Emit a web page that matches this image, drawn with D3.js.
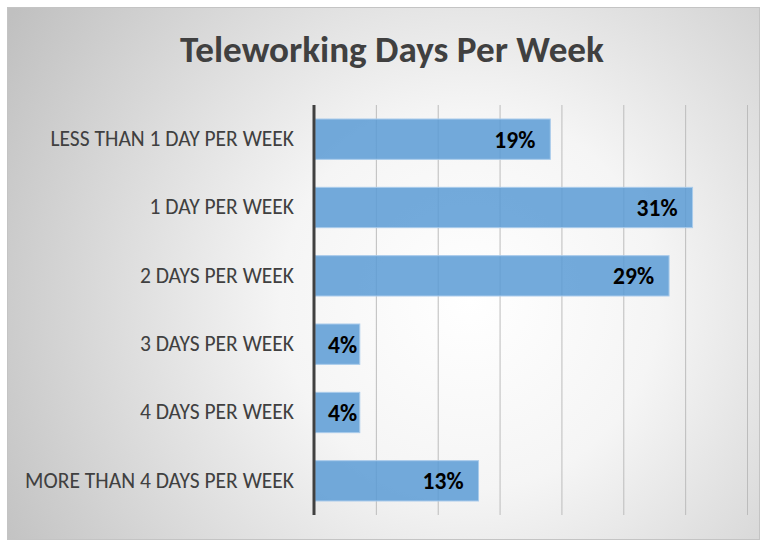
<!DOCTYPE html>
<html>
<head>
<meta charset="utf-8">
<script src="https://cdn.jsdelivr.net/npm/d3@7"></script>
<style>
  body { margin: 0; background: #fff; }
  svg { display: block; }
</style>
</head>
<body>
<div id="corpo"></div>
<script>
// data
var categories = ["LESS THAN 1 DAY PER WEEK", "1 DAY PER WEEK", "2 DAYS PER WEEK",
                  "3 DAYS PER WEEK", "4 DAYS PER WEEK", "MORE THAN 4 DAYS PER WEEK"];
var values = [19.1, 30.6, 28.7, 3.7, 3.7, 13.3];
var tickValues = [0, 5, 10, 15, 20, 25, 30, 35];
var title = "Teleworking Days Per Week";

var W = 764, H = 541;
var box = {x: 7, y: 7, w: 752, h: 532};
var plot = {left: 314, right: 747, top: 105, bottom: 515};
var fontStack = "Carlito, Calibri, 'Open Sans', sans-serif";

var svg = d3.select("#corpo").append("svg")
    .attr("width", W)
    .attr("height", H);

// background gradient
var defs = svg.append("defs");
var grad = defs.append("radialGradient")
    .attr("id", "bg")
    .attr("gradientUnits", "userSpaceOnUse")
    .attr("cx", 470).attr("cy", 300).attr("r", 540);
grad.append("stop").attr("offset", "0%").attr("stop-color", "#ffffff");
grad.append("stop").attr("offset", "35%").attr("stop-color", "#f5f5f5");
grad.append("stop").attr("offset", "100%").attr("stop-color", "#c0c0c0");

svg.append("rect")
    .attr("x", box.x + 0.5).attr("y", box.y + 0.5)
    .attr("width", box.w).attr("height", box.h)
    .attr("fill", "url(#bg)")
    .attr("stroke", "#c4c4c4");

// scales
var x = d3.scaleLinear().domain([0, 35]).range([plot.left, plot.right]);
var y = d3.scaleBand().domain(categories)
    .range([plot.top, plot.bottom])
    .paddingInner(0.41).paddingOuter(0.205);

// gridlines
svg.append("g")
    .attr("transform", "translate(0," + plot.top + ")")
    .call(d3.axisBottom(x).tickValues(tickValues).tickSize(plot.bottom - plot.top).tickFormat(""))
    .call(function (g) {
        g.select(".domain").remove();
        g.selectAll(".tick line").attr("stroke", "#bcbcbc").attr("stroke-width", 1);
    });

// bars
svg.append("g").selectAll("rect")
    .data(values)
    .enter().append("rect")
    .attr("x", x(0) + 1)
    .attr("y", function (d, i) { return y(categories[i]); })
    .attr("width", function (d) { return x(d) - x(0) - 1; })
    .attr("height", y.bandwidth())
    .attr("fill", "#5b9bd5")
    .attr("fill-opacity", 0.85)
    .attr("stroke", "#a9cbeb")
    .attr("stroke-width", 1);

// category axis
var yAxis = svg.append("g")
    .attr("transform", "translate(" + plot.left + ",0)")
    .call(d3.axisLeft(y).tickSize(0).tickPadding(20));
yAxis.select(".domain").remove();
yAxis.selectAll(".tick text")
    .attr("fill", "#404040")
    .style("font-family", fontStack)
    .style("font-size", "17px");

// fit label font to the reference width
var longest = yAxis.selectAll(".tick text").filter(function (d) { return d === categories[5]; });
var lw = longest.node().getComputedTextLength();
var labelSize = 17 * 269 / lw;
yAxis.selectAll(".tick text").style("font-size", labelSize + "px");

svg.append("line")
    .attr("x1", plot.left).attr("x2", plot.left)
    .attr("y1", plot.top).attr("y2", plot.bottom)
    .attr("stroke", "#404040")
    .attr("stroke-width", 3);

// data labels
var labels = svg.append("g").selectAll("text")
    .data(values)
    .enter().append("text")
    .attr("y", function (d, i) { return y(categories[i]) + y.bandwidth() / 2; })
    .attr("dy", "0.36em")
    .attr("text-anchor", "end")
    .style("font-family", fontStack)
    .style("font-weight", "bold")
    .style("font-size", "20px")
    .attr("fill", "#000")
    .text(function (d) { return Math.round(d) + "%"; });

// size so that "31%" is about 41px wide, as in the reference
var w31 = labels.filter(function (d, i) { return i === 1; }).node().getComputedTextLength();
labels.style("font-size", (20 * 41 / w31) + "px");

labels.attr("x", function (d) {
    var tw = this.getComputedTextLength();
    return Math.max(x(d) - 15, x(0) + 14 + tw);
});

// title
var t = svg.append("text")
    .attr("x", 392)
    .attr("y", 62)
    .attr("text-anchor", "middle")
    .attr("fill", "#404040")
    .style("font-family", fontStack)
    .style("font-weight", "bold")
    .style("font-size", "30px")
    .text(title);
var tw = t.node().getComputedTextLength();
t.style("font-size", (30 * 424 / tw) + "px");
</script>
</body>
</html>
